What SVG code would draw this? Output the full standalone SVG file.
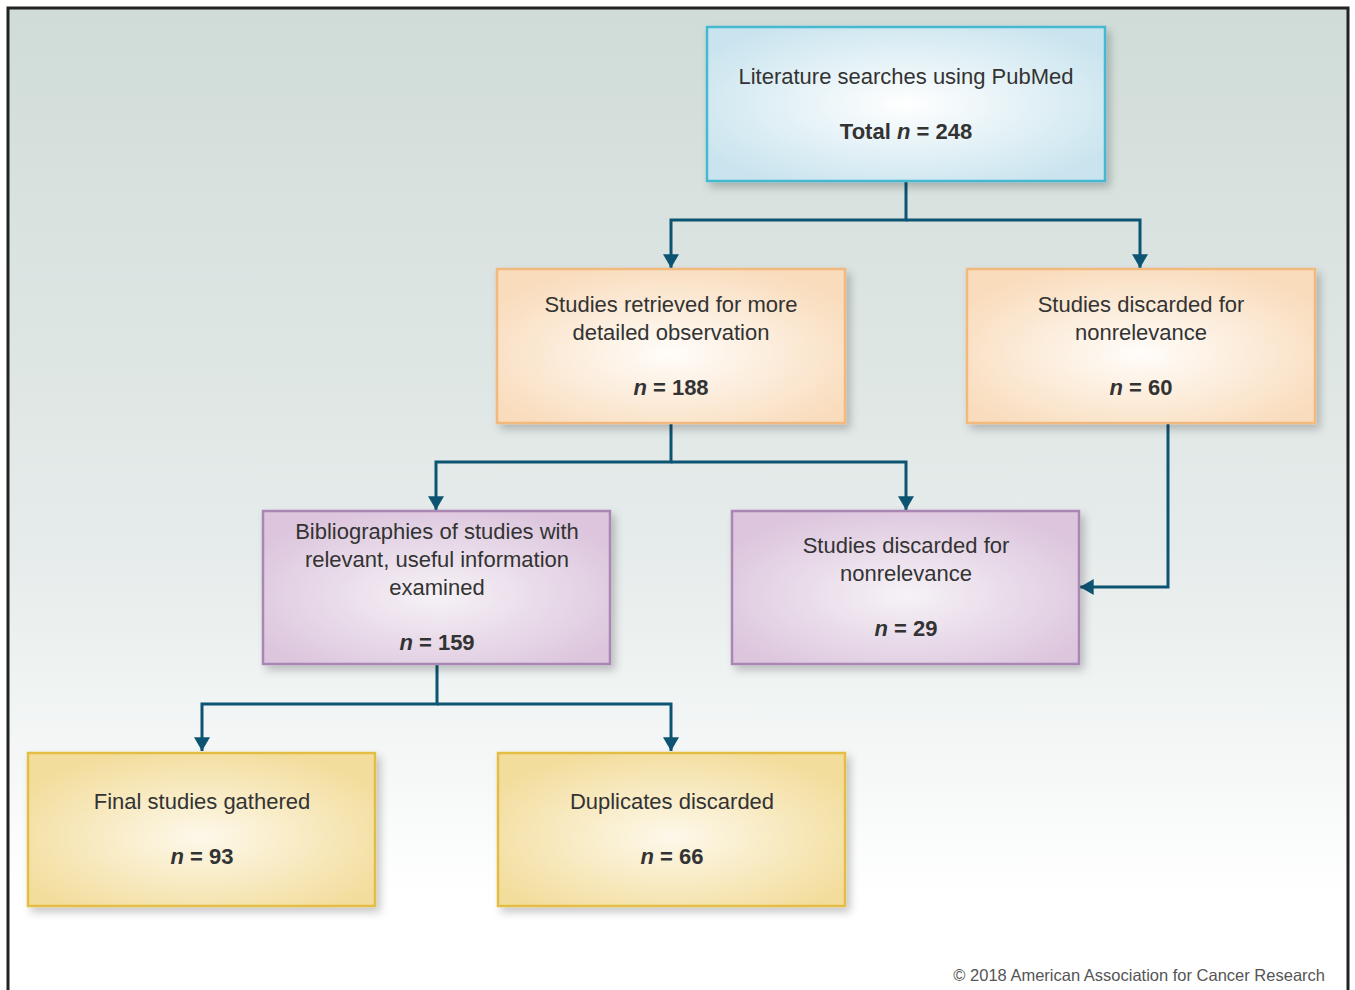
<svg xmlns="http://www.w3.org/2000/svg" width="1355" height="990" viewBox="0 0 1355 990">
<defs>
<linearGradient id="bg" x1="0" y1="0" x2="0" y2="1">
<stop offset="0" stop-color="#d0dcd8"/>
<stop offset="0.55" stop-color="#e6eceb"/>
<stop offset="0.9" stop-color="#ffffff"/>
<stop offset="1" stop-color="#ffffff"/>
</linearGradient>
<radialGradient id="gBlue" cx="0.5" cy="0.5" r="0.6">
<stop offset="0" stop-color="#ffffff"/>
<stop offset="1" stop-color="#c9e4ee"/>
</radialGradient>
<radialGradient id="gOrange" cx="0.5" cy="0.55" r="0.6">
<stop offset="0" stop-color="#fffdfa"/>
<stop offset="1" stop-color="#f9dcbc"/>
</radialGradient>
<radialGradient id="gPurple" cx="0.5" cy="0.55" r="0.6">
<stop offset="0" stop-color="#f6f2f7"/>
<stop offset="1" stop-color="#dcc5dd"/>
</radialGradient>
<radialGradient id="gYellow" cx="0.5" cy="0.55" r="0.6">
<stop offset="0" stop-color="#fdf8ea"/>
<stop offset="1" stop-color="#f3dd9c"/>
</radialGradient>
<filter id="shadow" x="-10%" y="-10%" width="125%" height="130%">
<feDropShadow dx="4" dy="5" stdDeviation="4" flood-color="#000" flood-opacity="0.22"/>
</filter>
<marker id="arr" viewBox="0 0 12 14" refX="12" refY="7" markerWidth="14" markerHeight="16" markerUnits="userSpaceOnUse" orient="auto">
<path d="M0,0 L12,7 L0,14 z" fill="#0d5473"/>
</marker>
</defs>
<style>
.t{font-family:"Liberation Sans",Arial,sans-serif;font-size:22px;fill:#333;text-anchor:middle}
.n{font-weight:bold}
.i{font-style:italic}
.conn{fill:none;stroke:#0d5473;stroke-width:3}
.blue{fill:url(#gBlue);stroke:#45b8d2;stroke-width:2.5}
.orange{fill:url(#gOrange);stroke:#f2b97f;stroke-width:2.5}
.purple{fill:url(#gPurple);stroke:#a986b4;stroke-width:2.5}
.yellow{fill:url(#gYellow);stroke:#e4bd45;stroke-width:2.5}
</style>
<rect x="0" y="0" width="1355" height="990" fill="#ffffff"/>
<rect x="8" y="8" width="1340" height="990" fill="url(#bg)" stroke="#222" stroke-width="3"/>

<g id="connectors">
<path class="conn" d="M906,181 V220 H671 V268" marker-end="url(#arr)"/>
<path class="conn" d="M906,220 H1140 V268" marker-end="url(#arr)"/>
<path class="conn" d="M671,423 V462 H436 V510" marker-end="url(#arr)"/>
<path class="conn" d="M671,462 H906 V510" marker-end="url(#arr)"/>
<path class="conn" d="M1168,423 V587 H1080" marker-end="url(#arr)"/>
<path class="conn" d="M437,664 V704 H202 V751" marker-end="url(#arr)"/>
<path class="conn" d="M437,704 H671 V751" marker-end="url(#arr)"/>
</g>

<g id="n1">
<rect class="blue" x="707" y="27" width="398" height="154" filter="url(#shadow)"/>
<text class="t" x="906" y="84">Literature searches using PubMed</text>
<text class="t n" x="906" y="139">Total <tspan class="i">n</tspan> = 248</text>
</g>
<g id="n2">
<rect class="orange" x="497" y="269" width="348" height="154" filter="url(#shadow)"/>
<text class="t" x="671" y="312">Studies retrieved for more</text>
<text class="t" x="671" y="340">detailed observation</text>
<text class="t n" x="671" y="395"><tspan class="i">n</tspan> = 188</text>
</g>
<g id="n3">
<rect class="orange" x="967" y="269" width="348" height="154" filter="url(#shadow)"/>
<text class="t" x="1141" y="312">Studies discarded for</text>
<text class="t" x="1141" y="340">nonrelevance</text>
<text class="t n" x="1141" y="395"><tspan class="i">n</tspan> = 60</text>
</g>
<g id="n4">
<rect class="purple" x="263" y="511" width="347" height="153" filter="url(#shadow)"/>
<text class="t" x="437" y="539">Bibliographies of studies with</text>
<text class="t" x="437" y="567">relevant, useful information</text>
<text class="t" x="437" y="595">examined</text>
<text class="t n" x="437" y="650"><tspan class="i">n</tspan> = 159</text>
</g>
<g id="n5">
<rect class="purple" x="732" y="511" width="347" height="153" filter="url(#shadow)"/>
<text class="t" x="906" y="553">Studies discarded for</text>
<text class="t" x="906" y="581">nonrelevance</text>
<text class="t n" x="906" y="636"><tspan class="i">n</tspan> = 29</text>
</g>
<g id="n6">
<rect class="yellow" x="28" y="753" width="347" height="153" filter="url(#shadow)"/>
<text class="t" x="202" y="809">Final studies gathered</text>
<text class="t n" x="202" y="864"><tspan class="i">n</tspan> = 93</text>
</g>
<g id="n7">
<rect class="yellow" x="498" y="753" width="347" height="153" filter="url(#shadow)"/>
<text class="t" x="672" y="809">Duplicates discarded</text>
<text class="t n" x="672" y="864"><tspan class="i">n</tspan> = 66</text>
</g>
<text x="1325" y="981" style="font-family:'Liberation Sans',Arial,sans-serif;font-size:16.5px;fill:#555;text-anchor:end">© 2018 American Association for Cancer Research</text>
</svg>
